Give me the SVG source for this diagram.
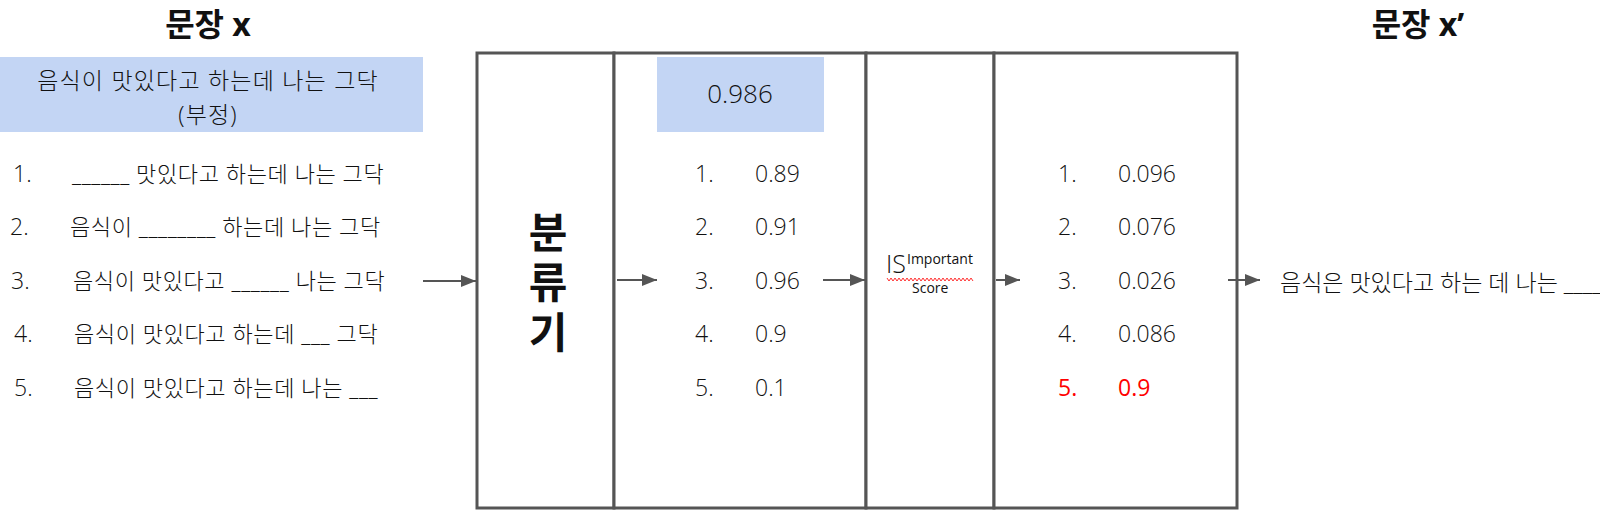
<svg xmlns="http://www.w3.org/2000/svg" width="1600" height="516" viewBox="0 0 1600 516">
<defs>
<style>
text{font-family:"Open Sans","Noto Sans CJK KR",sans-serif;fill:#111;}
.t{font-size:22px;font-weight:300;letter-spacing:0.6px;}
.n{font-size:23px;font-weight:300;}
.h{font-size:32px;font-weight:bold;text-anchor:middle;}
.box{fill:#fff;stroke:#555;stroke-width:3;}
.hl{fill:#c3d5f4;}
.red{fill:#ff0000;font-weight:400;}
.con{stroke:#555;stroke-width:2;fill:none;marker-end:url(#ah);}
</style>
<marker id="ah" markerUnits="userSpaceOnUse" markerWidth="15" markerHeight="12" refX="15" refY="6" orient="auto">
<path d="M0,0 L15,6 L0,12 z" fill="#555"/>
</marker>
</defs>
<rect width="1600" height="516" fill="#fff"/>

<g id="input">
<text class="h" x="208" y="36">문장 x</text>
<rect class="hl" x="0" y="57" width="423" height="75"/>
<text font-size="23" font-weight="300" letter-spacing="1.2" text-anchor="middle"><tspan x="208" y="89">음식이 맛있다고 하는데 나는 그닥</tspan><tspan x="208" y="123">(부정)</tspan></text>
<text class="n" x="13" y="182">1.</text>
<text class="t" x="72" y="182">______ 맛있다고 하는데 나는 그닥</text>
<text class="n" x="10" y="235">2.</text>
<text class="t" x="70" y="235">음식이 ________ 하는데 나는 그닥</text>
<text class="n" x="11" y="289">3.</text>
<text class="t" x="73" y="289">음식이 맛있다고 ______ 나는 그닥</text>
<text class="n" x="14" y="342">4.</text>
<text class="t" x="74" y="342">음식이 맛있다고 하는데 ___ 그닥</text>
<text class="n" x="14" y="396">5.</text>
<text class="t" x="74" y="396">음식이 맛있다고 하는데 나는 ___</text>
</g>

<g id="classifier">
<rect class="box" x="477" y="53" width="137" height="455"/>
<text x="546" y="211" font-size="42" font-weight="bold" writing-mode="vertical-rl" letter-spacing="8">분류기</text>
</g>

<g id="probs">
<rect class="box" x="614" y="53" width="252" height="455"/>
<rect class="hl" x="657" y="57" width="167" height="75"/>
<text x="740" y="103" font-size="26" font-weight="300" text-anchor="middle">0.986</text>
<text class="n" x="695" y="182">1.</text><text class="n" x="755" y="182">0.89</text>
<text class="n" x="695" y="235">2.</text><text class="n" x="755" y="235">0.91</text>
<text class="n" x="695" y="289">3.</text><text class="n" x="755" y="289">0.96</text>
<text class="n" x="695" y="342">4.</text><text class="n" x="755" y="342">0.9</text>
<text class="n" x="695" y="396">5.</text><text class="n" x="755" y="396">0.1</text>
</g>

<g id="is">
<rect class="box" x="866" y="53" width="128" height="455"/>
<text x="886" y="273" font-size="25" font-weight="300">IS</text>
<text x="907" y="264" font-size="14">Important</text>
<text x="912" y="293" font-size="14">Score</text>
<polyline points="887,278 889,281 891,278 893,281 895,278 897,281 899,278 901,281 903,278 905,281 907,278 909,281 911,278 913,281 915,278 917,281 919,278 921,281 923,278 925,281 927,278 929,281 931,278 933,281 935,278 937,281 939,278 941,281 943,278 945,281 947,278 949,281 951,278 953,281 955,278 957,281 959,278 961,281 963,278 965,281 967,278 969,281 971,278 973,281" fill="none" stroke="#ff3030" stroke-width="1"/>
</g>

<g id="scores">
<rect class="box" x="994" y="53" width="243" height="455"/>
<text class="n" x="1058" y="182">1.</text><text class="n" x="1118" y="182">0.096</text>
<text class="n" x="1058" y="235">2.</text><text class="n" x="1118" y="235">0.076</text>
<text class="n" x="1058" y="289">3.</text><text class="n" x="1118" y="289">0.026</text>
<text class="n" x="1058" y="342">4.</text><text class="n" x="1118" y="342">0.086</text>
<text class="n red" x="1058" y="396">5.</text><text class="n red" x="1118" y="396">0.9</text>
</g>

<g id="output">
<text class="h" x="1418" y="36">문장 x’</text>
<text x="1280" y="291" font-size="23" font-weight="300">음식은 맛있다고 하는 데 나는 ____</text>
</g>

<g id="connectors">
<line class="con" x1="423" y1="281" x2="476" y2="281"/>
<line class="con" x1="617" y1="280" x2="657" y2="280"/>
<line class="con" x1="823" y1="280" x2="865" y2="280"/>
<line class="con" x1="996" y1="280" x2="1020" y2="280"/>
<line class="con" x1="1228" y1="280" x2="1260" y2="280"/>
</g>
</svg>
